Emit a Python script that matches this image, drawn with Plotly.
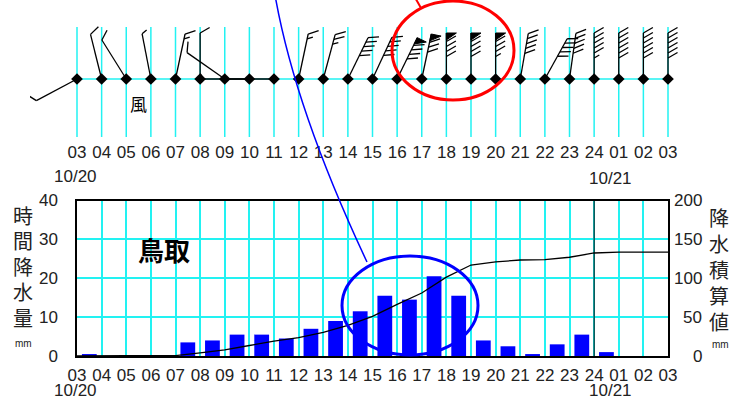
import math
import plotly.graph_objects as go

# ---------------- data ----------------
hour_labels = ["03", "04", "05", "06", "07", "08", "09", "10", "11", "12", "13", "14", "15",
               "16", "17", "18", "19", "20", "21", "22", "23", "24", "01", "02", "03"]
date_labels = ["10/20", "10/21"]
# hourly precipitation (mm) for each hour interval 03-04 ... 02-03
precip_mm = [0.5, 0, 0, 0, 3.5, 4, 5.5, 5.5, 4.5, 7, 9, 11.5, 15.5, 14.5, 20.5, 15.5,
             4, 2.5, 0.5, 3, 5.5, 1, 0, 0]
# wind at each hour: direction (deg, from), feathers (0.5 = half), pennants
wind_dir_deg = [242, 346, 328, 349, 12, 0, 305, 270, 270, 12, 15, 26, 25, 26, 12,
                0, 0, 0, 10, 29, 8, 0, 0, 0, 0]
wind_feathers = [1, 1, 1, 0.5, 1.5, 1, 1, 0.5, 0, 1.5, 2.5, 5, 5, 4, 3,
                 4, 4, 3.5, 5, 5, 5, 5.5, 6, 6, 6]
wind_pennants = [0, 0, 0, 0, 0, 0, 0, 0, 0, 0, 0, 0, 0, 1, 1,
                 1, 1, 1, 0, 0, 0, 0, 0, 0, 0]
station = "鳥取"
wind_label = "風"
left_title = "時間降水量"
right_title = "降水積算値"
unit = "mm"
left_ticks = [0, 10, 20, 30, 40]
right_ticks = [0, 50, 100, 150, 200]

# ---------------- geometry / style ----------------
W, H = 731, 401
X0, X1 = 77, 668
KX = (X1 - X0) / 24.0
BT, BB = 200.5, 356
TT, TB, TZ, TGRID = 5, 137, 79, 27
TL, TR = 30, 705          # wider top panel so barbs are not clipped
CYAN = "#22f2f2"
NUMFONT = "Liberation Sans, Arial, sans-serif"
CJK = "Noto Sans CJK JP, sans-serif"
TXT = "#222"


def pxx(p):
    return p / W


def pyy(p):
    return 1 - p / H


n = len(hour_labels)
xs = list(range(n))
cum = [0]
for v in precip_mm:
    cum.append(cum[-1] + v)

fig = go.Figure()

# ---- bottom panel ----
fig.add_trace(go.Bar(x=[i + 0.5 for i in range(len(precip_mm))], y=precip_mm, width=0.6,
                     marker=dict(color="#0000ff", line=dict(width=0)),
                     xaxis="x", yaxis="y", hoverinfo="skip"))
day_idx = hour_labels.index("24")
fig.add_trace(go.Scatter(x=[day_idx, day_idx], y=[0, 40], mode="lines",
                         line=dict(color="black", width=1), xaxis="x", yaxis="y"))
fig.add_trace(go.Scatter(x=xs, y=cum, mode="lines", line=dict(color="black", width=1.3),
                         xaxis="x", yaxis="y2"))

# ---- top panel (wind) ----
ylo = -(TB - TZ) / KX
yhi = (TZ - TT) / KX
ygrid = (TZ - TGRID) / KX
gx, gy = [], []
for i in xs:
    gx += [i, i, None]
    gy += [ylo, ygrid, None]
gx += [0, n - 1]
gy += [0, 0]
fig.add_trace(go.Scatter(x=gx, y=gy, mode="lines", line=dict(color=CYAN, width=1.5),
                         xaxis="x2", yaxis="y3"))

L = 46 / KX
SP = 5 / KX
FL = 11 / KX
HL = 6 / KX
PW = 7 / KX
PL = 10 / KX
bx, by, fx, fy = [], [], [], []
for i, (d, f, p) in enumerate(zip(wind_dir_deg, wind_feathers, wind_pennants)):
    t = math.radians(d)
    sx, sy = math.sin(t), math.cos(t)
    tb = math.radians(d + 60)
    ux, uy = math.sin(tb), math.cos(tb)
    tp = math.radians(d + 90)
    qx, qy = math.sin(tp), math.cos(tp)
    tipx, tipy = i + L * sx, L * sy
    bx += [i, tipx, None]
    by += [0, tipy, None]
    pos = 0.0
    for k in range(p):
        ax, ay = tipx - pos * sx, tipy - pos * sy
        fx += [ax, ax + PL * qx, ax - PW * sx, ax, None]
        fy += [ay, ay + PL * qy, ay - PW * sy, ay, None]
        pos += PW + 1.5 / KX
    nfull = int(f)
    for k in range(nfull):
        ax, ay = tipx - pos * sx, tipy - pos * sy
        bx += [ax, ax + FL * ux, None]
        by += [ay, ay + FL * uy, None]
        pos += SP
    if f - nfull >= 0.5:
        ax, ay = tipx - pos * sx, tipy - pos * sy
        bx += [ax, ax + HL * ux, None]
        by += [ay, ay + HL * uy, None]

fig.add_trace(go.Scatter(x=bx, y=by, mode="lines", line=dict(color="black", width=1.3),
                         xaxis="x2", yaxis="y3"))
if fx:
    fig.add_trace(go.Scatter(x=fx, y=fy, mode="lines", fill="toself", fillcolor="black",
                             line=dict(color="black", width=1), xaxis="x2", yaxis="y3"))
fig.add_trace(go.Scatter(x=xs, y=[0] * n, mode="markers",
                         marker=dict(symbol="diamond", size=9, color="black"),
                         xaxis="x2", yaxis="y3"))

numfont = dict(family=NUMFONT, size=17, color=TXT)
fig.update_layout(
    template="none",
    width=W, height=H, margin=dict(l=0, r=0, t=0, b=0, autoexpand=False),
    paper_bgcolor="white", plot_bgcolor="rgba(0,0,0,0)", showlegend=False,
    xaxis=dict(domain=[pxx(X0), pxx(X1)], range=[0, 24], tickvals=xs, ticktext=hour_labels,
               showgrid=True, gridcolor=CYAN, gridwidth=1.5, showline=True, linecolor="black",
               linewidth=1.5, mirror=True, ticks="", zeroline=False, tickfont=numfont,
               anchor="y", tickangle=0, automargin=False, ticklabelstandoff=3),
    yaxis=dict(domain=[pyy(BB), pyy(BT)], range=[0, 40], tickvals=left_ticks,
               showgrid=True, gridcolor=CYAN, gridwidth=1.5, showline=True, linecolor="black",
               linewidth=1.5, mirror=True, ticks="", zeroline=False, tickfont=numfont,
               ticklabelstandoff=14, automargin=False),
    yaxis2=dict(overlaying="y", side="right", range=[0, 200], showgrid=False,
                showticklabels=False, showline=False, zeroline=False, ticks="",
                automargin=False),
    xaxis2=dict(domain=[pxx(TL), pxx(TR)], range=[(TL - X0) / KX, (TR - X0) / KX],
                anchor="y3", tickvals=xs, ticktext=hour_labels, showgrid=False,
                showline=False, zeroline=False, ticks="", tickfont=numfont, tickangle=0,
                automargin=False, ticklabelstandoff=3),
    yaxis3=dict(domain=[pyy(TB), pyy(TT)], range=[ylo, yhi], visible=False, automargin=False),
)

ann = []
# date labels
ann.append(dict(x=0, xref="x2", y=pyy(177), yref="paper", text=date_labels[0], showarrow=False,
                font=numfont, xanchor="center", yanchor="middle", xshift=-2))
ann.append(dict(x=22, xref="x2", y=pyy(178), yref="paper", text=date_labels[1], showarrow=False,
                font=numfont, xanchor="center", yanchor="middle", xshift=-8))
ann.append(dict(x=0, xref="x", y=pyy(390), yref="paper", text=date_labels[0], showarrow=False,
                font=numfont, xanchor="center", yanchor="middle", xshift=-2))
ann.append(dict(x=22, xref="x", y=pyy(390), yref="paper", text=date_labels[1], showarrow=False,
                font=numfont, xanchor="center", yanchor="middle", xshift=-8))
# right axis ticks
for v in right_ticks:
    ann.append(dict(x=pxx(704), xref="paper", y=v, yref="y2", text=str(v), showarrow=False,
                    font=numfont, xanchor="right", yanchor="middle"))
# vertical titles, one character per row
for k, ch in enumerate(left_title):
    ann.append(dict(x=pxx(23), y=pyy(215 + k * 25.6), xref="paper", yref="paper", text=ch,
                    showarrow=False, font=dict(family=CJK, size=20, color=TXT),
                    xanchor="center", yanchor="middle"))
for k, ch in enumerate(right_title):
    ann.append(dict(x=pxx(719), y=pyy(217 + k * 26), xref="paper", yref="paper", text=ch,
                    showarrow=False, font=dict(family=CJK, size=20, color=TXT),
                    xanchor="center", yanchor="middle"))
ann.append(dict(x=pxx(23), y=pyy(343), xref="paper", yref="paper", text=unit,
                xanchor="center", yanchor="middle",
                showarrow=False, font=dict(family=NUMFONT, size=10, color=TXT)))
ann.append(dict(x=pxx(720), y=pyy(344), xref="paper", yref="paper", text=unit,
                xanchor="center", yanchor="middle",
                showarrow=False, font=dict(family=NUMFONT, size=10, color=TXT)))
ann.append(dict(x=pxx(164), y=pyy(249.5), xref="paper", yref="paper", text="<b>" + station + "</b>",
                xanchor="center", yanchor="middle",
                showarrow=False, font=dict(family=CJK, size=26, color="black")))
ann.append(dict(x=pxx(138), y=pyy(103.5), xref="paper", yref="paper", text=wind_label,
                xanchor="center", yanchor="middle",
                showarrow=False, font=dict(family=CJK, size=17, color="black")))
fig.update_layout(annotations=ann)

# highlight drawings
shapes = [
    dict(type="circle", xref="paper", yref="paper", x0=pxx(392), x1=pxx(514), y0=pyy(100),
         y1=pyy(1), line=dict(color="#ff0000", width=3)),
    dict(type="line", xref="paper", yref="paper", x0=pxx(413), y0=pyy(-6), x1=pxx(421), y1=pyy(8),
         line=dict(color="#ff0000", width=2)),
    dict(type="circle", xref="paper", yref="paper", x0=pxx(342), x1=pxx(478), y0=pyy(355),
         y1=pyy(256), line=dict(color="#0000ff", width=3)),
    dict(type="path", xref="paper", yref="paper",
         path="M %f,%f Q %f,%f %f,%f" % (pxx(275), pyy(-5), pxx(295), pyy(109), pxx(367), pyy(262)),
         line=dict(color="#0000ff", width=1.5)),
]
fig.update_layout(shapes=shapes)

fig.write_html("out.html", config={"displayModeBar": False},
               post_script="document.body.style.margin='0px';document.body.style.overflow='hidden';")
